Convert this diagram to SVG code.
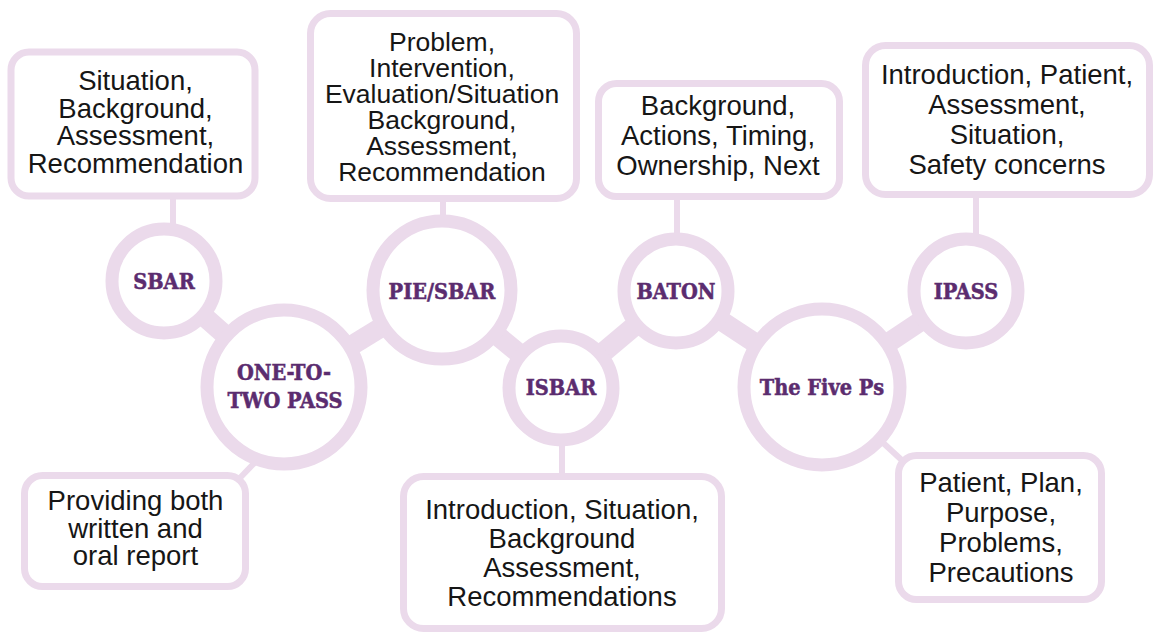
<svg xmlns="http://www.w3.org/2000/svg" width="1156" height="632" viewBox="0 0 1156 632">
  <style>
    .ring { fill: #ffffff; stroke: #ebdaeb; stroke-width: 13; }
    .box { fill: #ffffff; stroke: #ebdaeb; stroke-width: 7; }
    .bar { stroke: #ebdaeb; stroke-width: 20; fill: none; }
    .stub { stroke: #ebdaeb; stroke-width: 6; fill: none; }
    .lbl { font-family: "Liberation Sans", Arial, sans-serif; font-size: 27.5px; fill: #161616; text-anchor: middle; }
    .tight { font-size: 26.5px; }
    .hd { font-family: "DejaVu Serif Condensed", "DejaVu Serif", serif; font-stretch: condensed; font-weight: bold; font-size: 21.5px; fill: #5b2c6f; stroke: #5b2c6f; stroke-width: 0.5; text-anchor: middle; }
  </style>
  <rect x="0" y="0" width="1156" height="632" fill="#ffffff"/>
  <g id="connectors">
    <line class="bar" x1="164" y1="281" x2="284" y2="387"/>
    <line class="bar" x1="284" y1="387" x2="442" y2="290"/>
    <line class="bar" x1="442" y1="290" x2="561" y2="388"/>
    <line class="bar" x1="561" y1="388" x2="676" y2="291"/>
    <line class="bar" x1="676" y1="291" x2="822" y2="387"/>
    <line class="bar" x1="822" y1="387" x2="966" y2="291"/>
    <line class="stub" x1="173" y1="198" x2="173" y2="226"/>
    <line class="stub" x1="443" y1="198" x2="443" y2="218"/>
    <line class="stub" x1="677" y1="198" x2="677" y2="236"/>
    <line class="stub" x1="976" y1="196" x2="976" y2="236"/>
    <line class="stub" x1="562" y1="444" x2="562" y2="476"/>
    <line class="stub" x1="262" y1="455" x2="236" y2="482"/>
    <line class="stub" x1="880" y1="440" x2="906" y2="464"/>
  </g>
  <g id="node-sbar">
    <circle class="ring" cx="164" cy="281" r="52"/>
    <text class="hd" x="164" y="289">SBAR</text>
  </g>
  <g id="node-one-to-two">
    <circle class="ring" cx="284" cy="387" r="77"/>
    <text class="hd" x="284" y="380">ONE-TO-</text>
    <text class="hd" x="285" y="408">TWO PASS</text>
  </g>
  <g id="node-pie-sbar">
    <circle class="ring" cx="442" cy="290" r="69"/>
    <text class="hd" x="442" y="299">PIE/SBAR</text>
  </g>
  <g id="node-isbar">
    <circle class="ring" cx="561" cy="388" r="52"/>
    <text class="hd" x="561" y="395">ISBAR</text>
  </g>
  <g id="node-baton">
    <circle class="ring" cx="676" cy="291" r="52"/>
    <text class="hd" x="676" y="299">BATON</text>
  </g>
  <g id="node-five-ps">
    <circle class="ring" cx="822" cy="387" r="78"/>
    <text class="hd" x="822" y="395">The Five Ps</text>
  </g>
  <g id="node-ipass">
    <circle class="ring" cx="966" cy="291" r="52"/>
    <text class="hd" x="966" y="299">IPASS</text>
  </g>
  <g id="box-sbar">
    <rect class="box" x="11" y="52" width="244" height="144" rx="18"/>
    <text class="lbl" x="135.5" y="90">Situation,</text>
    <text class="lbl" x="135.5" y="118">Background,</text>
    <text class="lbl" x="135.5" y="145">Assessment,</text>
    <text class="lbl" x="135.5" y="173">Recommendation</text>
  </g>
  <g id="box-pie-sbar">
    <rect class="box" x="310.5" y="13.5" width="266" height="185" rx="20"/>
    <text class="lbl tight" x="442" y="51">Problem,</text>
    <text class="lbl tight" x="442" y="77">Intervention,</text>
    <text class="lbl tight" x="442" y="103">Evaluation/Situation</text>
    <text class="lbl tight" x="442" y="129">Background,</text>
    <text class="lbl tight" x="442" y="155">Assessment,</text>
    <text class="lbl tight" x="442" y="181">Recommendation</text>
  </g>
  <g id="box-baton">
    <rect class="box" x="598.5" y="83.5" width="241" height="113" rx="18"/>
    <text class="lbl" x="718" y="115">Background,</text>
    <text class="lbl" x="718" y="145">Actions, Timing,</text>
    <text class="lbl" x="718" y="175">Ownership, Next</text>
  </g>
  <g id="box-ipass">
    <rect class="box" x="865.5" y="45.5" width="284" height="149" rx="20"/>
    <text class="lbl" x="1007" y="84">Introduction, Patient,</text>
    <text class="lbl" x="1007" y="114">Assessment,</text>
    <text class="lbl" x="1007" y="144">Situation,</text>
    <text class="lbl" x="1007" y="174">Safety concerns</text>
  </g>
  <g id="box-one-to-two">
    <rect class="box" x="24.5" y="475.5" width="221" height="111" rx="18"/>
    <text class="lbl" x="135.5" y="510">Providing both</text>
    <text class="lbl" x="135.5" y="537.5">written and</text>
    <text class="lbl" x="135.5" y="565">oral report</text>
  </g>
  <g id="box-isbar">
    <rect class="box" x="403.5" y="476.5" width="318" height="152" rx="20"/>
    <text class="lbl" x="562" y="519">Introduction, Situation,</text>
    <text class="lbl" x="562" y="548">Background</text>
    <text class="lbl" x="562" y="577">Assessment,</text>
    <text class="lbl" x="562" y="606">Recommendations</text>
  </g>
  <g id="box-five-ps">
    <rect class="box" x="898.5" y="455.5" width="203" height="144" rx="18"/>
    <text class="lbl" x="1001" y="492">Patient, Plan,</text>
    <text class="lbl" x="1001" y="522">Purpose,</text>
    <text class="lbl" x="1001" y="552">Problems,</text>
    <text class="lbl" x="1001" y="582">Precautions</text>
  </g>
</svg>
